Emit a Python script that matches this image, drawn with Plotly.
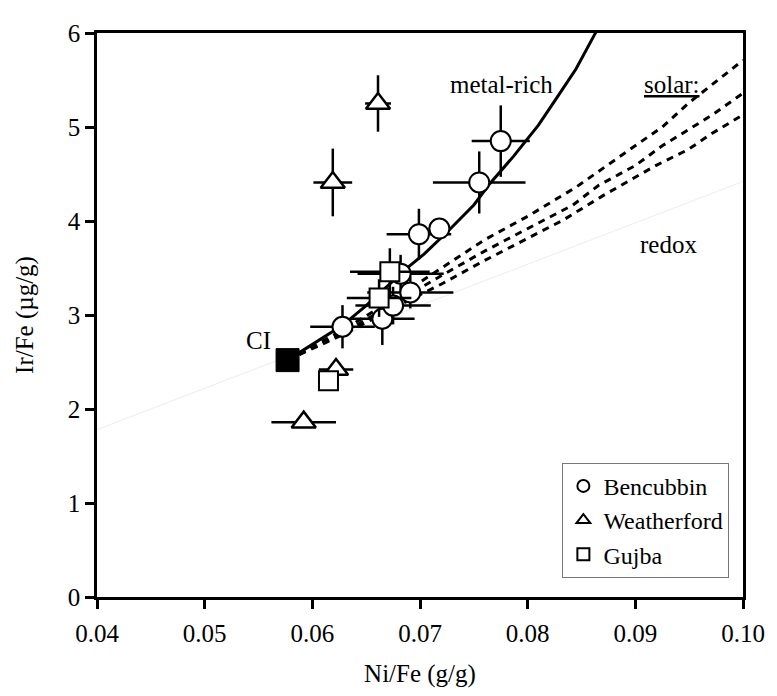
import plotly.graph_objects as go

# ---- data ----
ben_x = [0.0628, 0.0665, 0.0675, 0.0691, 0.0682, 0.0699, 0.0718, 0.0755, 0.0775]
ben_y = [2.875, 2.96, 3.10, 3.24, 3.44, 3.86, 3.92, 4.41, 4.85]
ben_ex = [0.0030, 0.0030, 0.0035, 0.0040, 0.0040, 0.0030, 0.0010, 0.0043, 0.0027]
ben_ey = [0.23, 0.28, 0.20, 0.17, 0.20, 0.27, 0.10, 0.33, 0.38]

wea_x = [0.0661, 0.0619, 0.0622, 0.0592]
wea_y = [5.25, 4.41, 2.42, 1.86]
wea_ex = [0.0012, 0.0018, 0.0016, 0.0030]
wea_ey = [0.30, 0.36, 0.0, 0.0]

guj_x = [0.0672, 0.0662, 0.0615]
guj_y = [3.46, 3.18, 2.30]
guj_ex = [0.0037, 0.0030, 0.0]
guj_ey = [0.25, 0.20, 0.0]

ci_x = [0.0577]
ci_y = [2.52]

metal_x = [0.0577, 0.0605, 0.0628, 0.0650, 0.0670, 0.0689, 0.0704, 0.0725, 0.0750,
           0.0765, 0.0787, 0.0810, 0.0827, 0.0845, 0.0862, 0.0870]
metal_y = [2.52, 2.72, 2.89, 3.10, 3.31, 3.51, 3.65, 3.88, 4.17,
           4.40, 4.69, 5.02, 5.31, 5.62, 5.98, 6.15]

solarA_x = [0.0577, 0.063, 0.068, 0.072, 0.076, 0.080, 0.0845, 0.0891, 0.0925, 0.0949, 0.0971, 0.100]
solarA_y = [2.52, 2.85, 3.20, 3.50, 3.80, 4.05, 4.36, 4.73, 5.00, 5.25, 5.45, 5.71]
solarB_x = [0.0577, 0.063, 0.068, 0.072, 0.076, 0.080, 0.0842, 0.0866, 0.0900, 0.0925, 0.0949, 0.0971, 0.100]
solarB_y = [2.52, 2.82, 3.15, 3.42, 3.68, 3.92, 4.17, 4.38, 4.59, 4.80, 4.97, 5.125, 5.36]
solarC_x = [0.0577, 0.063, 0.068, 0.072, 0.076, 0.080, 0.0833, 0.0870, 0.0894, 0.0919, 0.0949, 0.0971, 0.100]
solarC_y = [2.52, 2.80, 3.10, 3.33, 3.58, 3.82, 4.01, 4.27, 4.43, 4.59, 4.76, 4.93, 5.13]

redox_x = [0.04, 0.10]
redox_y = [1.78, 4.42]

FONT = "Times New Roman, Liberation Serif, Times, serif"
FS = 25

fig = go.Figure()

fig.add_trace(go.Scatter(x=redox_x, y=redox_y, mode="lines",
                         line=dict(color="#ededed", width=1), showlegend=False, hoverinfo="skip"))
for sx, sy in [(solarA_x, solarA_y), (solarB_x, solarB_y), (solarC_x, solarC_y)]:
    fig.add_trace(go.Scatter(x=sx, y=sy, mode="lines",
                             line=dict(color="black", width=3, dash="7px,6px"),
                             showlegend=False, hoverinfo="skip"))
fig.add_trace(go.Scatter(x=metal_x, y=metal_y, mode="lines", line=dict(color="black", width=3),
                         showlegend=False, hoverinfo="skip"))

eb = dict(color="black", thickness=2.5, width=0)
fig.add_trace(go.Scatter(x=ben_x, y=ben_y, mode="markers", name="Bencubbin",
                         error_x=dict(type="data", array=ben_ex, **eb),
                         error_y=dict(type="data", array=ben_ey, **eb),
                         marker=dict(symbol="circle", size=20, color="white",
                                     line=dict(color="black", width=2))))
fig.add_trace(go.Scatter(x=wea_x, y=wea_y, mode="markers", name="Weatherford",
                         error_x=dict(type="data", array=wea_ex, **eb),
                         error_y=dict(type="data", array=wea_ey, **eb),
                         marker=dict(symbol="triangle-up", size=21, color="white",
                                     line=dict(color="black", width=2.5))))
fig.add_trace(go.Scatter(x=guj_x, y=guj_y, mode="markers", name="Gujba",
                         error_x=dict(type="data", array=guj_ex, **eb),
                         error_y=dict(type="data", array=guj_ey, **eb),
                         marker=dict(symbol="square", size=19, color="white",
                                     line=dict(color="black", width=2))))
fig.add_trace(go.Scatter(x=ci_x, y=ci_y, mode="markers", showlegend=False,
                         marker=dict(symbol="square", size=23, color="black",
                                     line=dict(color="black", width=1))))

ann = dict(showarrow=False, font=dict(family=FONT, size=FS, color="black"), xref="x", yref="y")
fig.add_annotation(x=0.0550, y=2.73, text="CI", **ann)
fig.add_annotation(x=0.0776, y=5.45, text="metal-rich", **ann)
fig.add_annotation(x=0.0934, y=5.45, text="<u>solar:</u>", **ann)
fig.add_annotation(x=0.0931, y=3.75, text="redox", **ann)

axis_common = dict(showline=True, linecolor="black", linewidth=2.5, mirror=True,
                   ticks="outside", ticklen=9, tickwidth=2.5, tickcolor="black",
                   showgrid=False, zeroline=False,
                   tickfont=dict(family=FONT, size=FS, color="black"))

# page body has an 8px margin, so the figure is shifted by 8px in the window
fig.update_layout(
    width=769, height=688,
    margin=dict(l=89, r=29, t=13, b=99),
    paper_bgcolor="white", plot_bgcolor="white",
    font=dict(family=FONT, size=FS, color="black"),
    xaxis=dict(range=[0.04, 0.10], dtick=0.01, tickformat=".2f", ticklabelstandoff=3,
               title=dict(text="Ni/Fe (g/g)", font=dict(family=FONT, size=FS), standoff=19),
               **axis_common),
    yaxis=dict(range=[0, 6], dtick=1,
               title=dict(text="Ir/Fe (µg/g)", font=dict(family=FONT, size=FS), standoff=28),
               **axis_common),
    legend=dict(x=0.7204, y=0.034, xanchor="left", yanchor="bottom",
                bgcolor="white", bordercolor="#777777", borderwidth=1,
                font=dict(family=FONT, size=24, color="black"),
                itemsizing="constant", tracegroupgap=0),
    showlegend=True,
)

fig.write_html("out.html")
